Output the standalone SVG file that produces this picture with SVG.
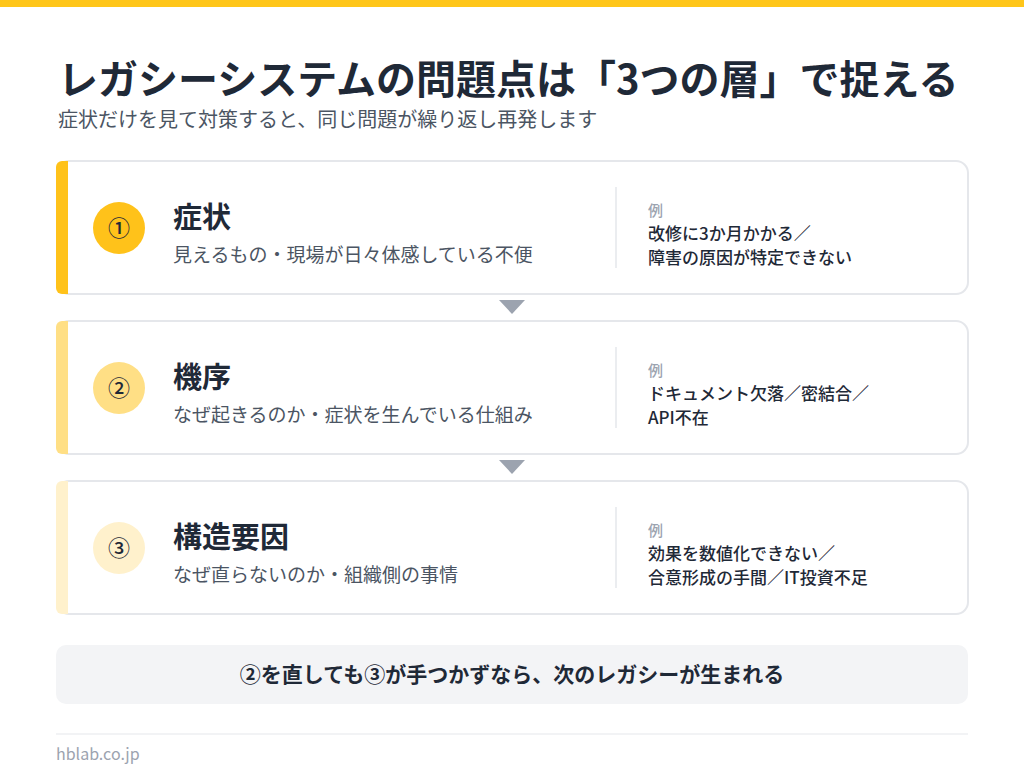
<svg xmlns="http://www.w3.org/2000/svg" width="1024" height="768" viewBox="0 0 1024 768">
<style>
text{font-family:"Noto Sans CJK JP","Noto Sans",sans-serif}
.title{font-size:40px;font-weight:700;fill:#1f2937}
.sub{font-size:20px;fill:#4b5563}
.card{fill:#ffffff;stroke:#e5e7eb;stroke-width:2}
.h{font-size:29px;font-weight:700;fill:#1f2937}
.d{font-size:19px;fill:#4b5563}
.ex{font-size:15px;fill:#9ca3af;font-weight:500}
.exv{font-size:17px;fill:#1f2937;font-weight:500}
.num{font-size:22px;fill:#1f2937;text-anchor:middle;font-weight:500}
.div{stroke:#e5e7eb;stroke-width:1.5}
.arrow{fill:#9ca3af}
</style>
<rect x="0" y="0" width="1024" height="768" fill="#ffffff"/>
<rect x="0" y="0" width="1024" height="7" fill="#FFC61A"/>
<text class="title" x="58" y="94">レガシーシステムの問題点は「3つの層」で捉える</text>
<text class="sub" x="58" y="127">症状だけを見て対策すると、同じ問題が繰り返し再発します</text>

<g id="layer1">
<rect class="card" x="57" y="161" width="911" height="133" rx="12"/>
<path d="M62 161 h6 v133 h-6 a6 6 0 0 1 -6 -6 v-121 a6 6 0 0 1 6 -6z" fill="#FFC21A"/>
<circle cx="119" cy="228" r="26" fill="#FFC21A"/>
<text class="num" x="119" y="236">①</text>
<text class="h" x="173" y="228">症状</text>
<text class="d" x="173" y="262">見えるもの・現場が日々体感している不便</text>
<line class="div" x1="616" y1="187" x2="616" y2="268"/>
<text class="ex" x="648" y="216">例</text>
<text class="exv" x="648" y="240">改修に3か月かかる／</text>
<text class="exv" x="648" y="264">障害の原因が特定できない</text>
</g>

<g id="layer2">
<rect class="card" x="57" y="321" width="911" height="133" rx="12"/>
<path d="M62 321 h6 v133 h-6 a6 6 0 0 1 -6 -6 v-121 a6 6 0 0 1 6 -6z" fill="#FFDF85"/>
<circle cx="119" cy="388" r="26" fill="#FFDF85"/>
<text class="num" x="119" y="396">②</text>
<text class="h" x="173" y="388">機序</text>
<text class="d" x="173" y="422">なぜ起きるのか・症状を生んでいる仕組み</text>
<line class="div" x1="616" y1="347" x2="616" y2="428"/>
<text class="ex" x="648" y="376">例</text>
<text class="exv" x="648" y="400">ドキュメント欠落／密結合／</text>
<text class="exv" x="648" y="424">API不在</text>
</g>

<g id="layer3">
<rect class="card" x="57" y="481" width="911" height="133" rx="12"/>
<path d="M62 481 h6 v133 h-6 a6 6 0 0 1 -6 -6 v-121 a6 6 0 0 1 6 -6z" fill="#FFF1CC"/>
<circle cx="119" cy="548" r="26" fill="#FFF1CC"/>
<text class="num" x="119" y="556">③</text>
<text class="h" x="173" y="548">構造要因</text>
<text class="d" x="173" y="582">なぜ直らないのか・組織側の事情</text>
<line class="div" x1="616" y1="507" x2="616" y2="588"/>
<text class="ex" x="648" y="536">例</text>
<text class="exv" x="648" y="560">効果を数値化できない／</text>
<text class="exv" x="648" y="584">合意形成の手間／IT投資不足</text>
</g>

<g id="connectors">
<polygon class="arrow" points="499,300 525,300 512,314"/>
<polygon class="arrow" points="499,460 525,460 512,474"/>
</g>

<g id="note">
<rect x="56" y="645" width="912" height="59" rx="10" fill="#f3f4f6"/>
<text x="512" y="682" font-size="21" font-weight="700" fill="#1f2937" text-anchor="middle">②を直しても③が手つかずなら、次のレガシーが生まれる</text>
</g>

<line x1="56" y1="734" x2="968" y2="734" stroke="#e5e7eb" stroke-width="1"/>
<text x="56" y="760" font-size="16" fill="#9ca3af">hblab.co.jp</text>
</svg>
